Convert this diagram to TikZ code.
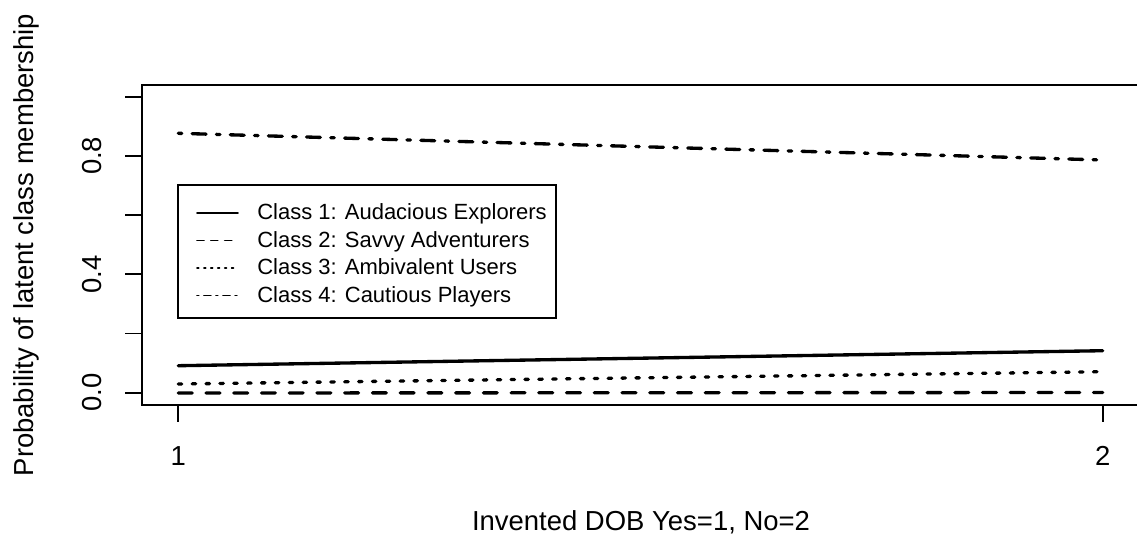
\documentclass[tikz,border=0pt]{standalone}
\usepackage{fontspec}
\setmainfont{Liberation Sans}
\begin{document}
\begin{tikzpicture}[x=0.75pt,y=-0.75pt,
  axisline/.style={line width=1.3pt,black},
  dataline/.style={line width=2.5pt,line cap=round},
  keyline/.style={line width=1.3pt,line cap=round},
  solidA/.style={},
  dashB/.style={dash pattern=on 10.4pt off 10.4pt},
  dotC/.style={dash pattern=on 2.6pt off 7.8pt},
  dashdotD/.style={dash pattern=on 2.6pt off 7.8pt on 10.4pt off 7.8pt},
  keydashB/.style={dash pattern=on 5.2pt off 5.2pt},
  keydotC/.style={dash pattern=on 1.3pt off 3.9pt},
  keydashdotD/.style={dash pattern=on 1.3pt off 3.9pt on 5.2pt off 3.9pt},
  ticklab/.style={font=\fontsize{20.6pt}{24pt}\selectfont,inner sep=0pt,anchor=base},
  axlab/.style={font=\fontsize{20.6pt}{24pt}\selectfont,inner sep=0pt,anchor=base},
  keytext/.style={font=\fontsize{16.5pt}{20pt}\selectfont,inner sep=0pt,anchor=base west}
]
\useasboundingbox (0,0) rectangle (1137,536);
\fill[white] (0,0) rectangle (1137,536);

% plot frame (right side lies past the page edge)
\draw[axisline] (1137,85) -- (142,85) -- (142,405) -- (1137,405);

% y axis ticks and labels
\foreach \v/\i in {0/0,0.2/1,0.4/2,0.6/3,0.8/4,1/5}{
  \coordinate (yt\i) at (142,{392.7-296*\v});
  \draw[axisline] (yt\i) -- ++(-17,0);
}
\node[ticklab,rotate=90] (lab00) at (101.7,392.7) {0.0};
\node[ticklab,rotate=90] (lab04) at (101.7,274.3) {0.4};
\node[ticklab,rotate=90] (lab08) at (101.7,155.9) {0.8};

% x axis ticks and labels
\coordinate (xt1) at (178.3,405);
\coordinate (xt2) at (1102.7,405);
\draw[axisline] (xt1) -- ++(0,16.7);
\draw[axisline] (xt2) -- ++(0,16.7);
\node[ticklab] (xlab1) at (178.3,465) {1};
\node[ticklab] (xlab2) at (1102.7,465) {2};

% axis titles
\node[axlab] (xtitle) at (641,530.5) {Invented DOB Yes=1, No=2};
\node[axlab,rotate=90] (ytitle) at (33,245) {Probability of latent class membership};

% class probability lines
\coordinate (c1a) at (178.3,365.7); \coordinate (c1b) at (1102.7,350.7);
\coordinate (c2a) at (178.3,393.0); \coordinate (c2b) at (1102.7,392.5);
\coordinate (c3a) at (178.3,384.0); \coordinate (c3b) at (1102.7,371.7);
\coordinate (c4a) at (178.3,133.3); \coordinate (c4b) at (1102.7,160.0);
\draw[dataline,solidA] (c1a) -- (c1b);
\draw[dataline,dashB] (c2a) -- (c2b);
\draw[dataline,dotC] (c3a) -- (c3b);
\draw[dataline,dashdotD] (c4a) -- (c4b);

% legend
\draw[axisline] (178.3,185) rectangle (556,318.3);
\foreach \r/\y/\sty/\txt in {
  1/213/solidA/{Class 1: Audacious Explorers},
  2/240.5/keydashB/{Class 2: Savvy Adventurers},
  3/268/keydotC/{Class 3: Ambivalent Users},
  4/295.5/keydashdotD/{Class 4: Cautious Players}}{
  \coordinate (k\r a) at (197,\y);
  \coordinate (k\r b) at (238,\y);
  \draw[keyline,\sty] (k\r a) -- (k\r b);
  \node[keytext] (key\r) at (257,\y+6.5) {\txt};
}
\end{tikzpicture}
\end{document}
